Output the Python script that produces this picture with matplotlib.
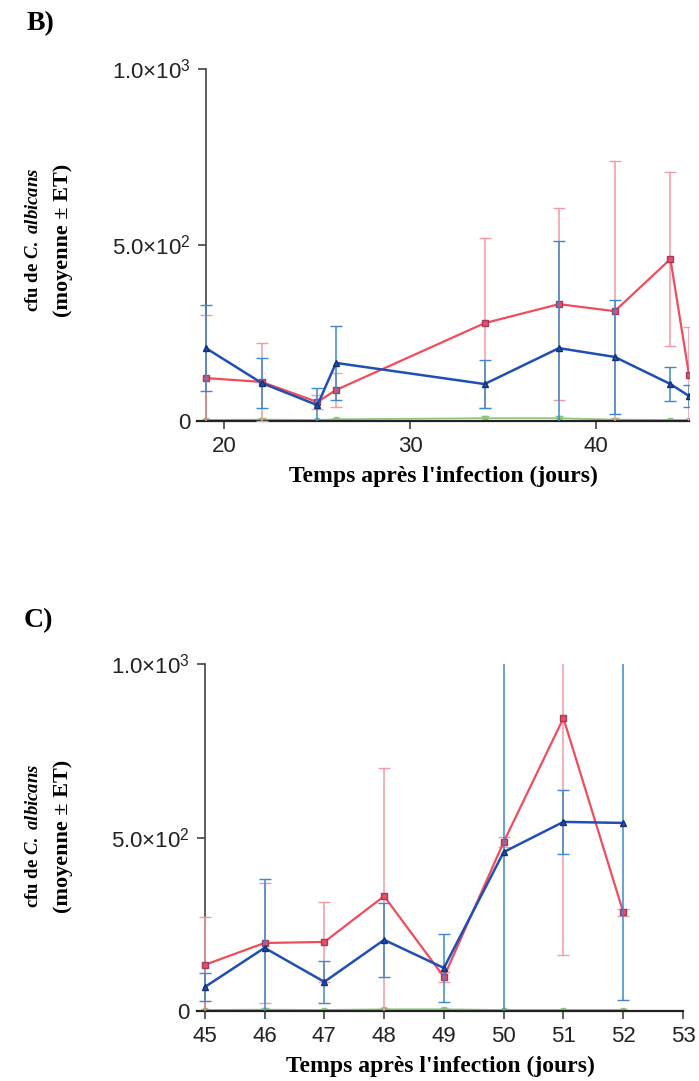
import numpy as np
import matplotlib
matplotlib.use('Agg')
import matplotlib.pyplot as plt

plt.rcParams['font.family'] = ['Liberation Sans', 'DejaVu Sans']
plt.rcParams['mathtext.fontset'] = 'custom'
plt.rcParams['mathtext.rm'] = 'Liberation Serif:bold'
plt.rcParams['mathtext.it'] = 'Liberation Serif:italic:bold'

# panneau B
jours_b = [19, 22, 25, 26, 34, 38, 41, 44, 45]
rouge_b = [122, 111, 54, 88, 278, 332, 312, 460, 131]
rouge_b_et = [179, 111, 20, 47, 242, 273, 426, 247, 136]
bleu_b = [207, 108, 45, 165, 105, 207, 182, 105, 71]
bleu_b_et = [123, 72, 50, 105, 68, 304, 161, 48, 30]
vert_b = [3, 4, 3, 5, 8, 8, 4, 3, 3]
vert_b_et = [3, 4, 3, 4, 6, 6, 4, 3, 3]

# panneau C
jours_c = [45, 46, 47, 48, 49, 50, 51, 52]
rouge_c = [133, 196, 199, 331, 98, 487, 844, 285]
rouge_c_et = [138, 173, 115, 369, 15, 15, 683, 10]
bleu_c = [69, 182, 84, 205, 124, 458, 545, 542]
bleu_c_et = [40, 198, 60, 107, 97, 600, 92, 510]
vert_c = [3, 4, 3, 5, 5, 3, 3, 3]
vert_c_et = [3, 4, 3, 4, 4, 3, 3, 3]

xticks_b = [20, 30, 40]
xticks_c = [45, 46, 47, 48, 49, 50, 51, 52, 53]
yticks = [0, 500, 1000]
ylabels = ['0', '5.0×10$^{\\mathregular{2}}$', '1.0×10$^{\\mathregular{3}}$']

c_rouge = '#f24b5c'
c_rouge_err = '#f39aa4'
c_rouge_cap = '#e27a8a'
c_bleu = '#1f4fb4'
c_bleu_err = '#3f86d0'
c_bleu_cap = '#1b3c80'
c_vert = '#8cc47a'

fig = plt.figure(figsize=(6.99, 10.81), dpi=100)


def panneau(ax, jours, rouge, rouge_et, bleu, bleu_et, vert, vert_et, x0, x1, xticks):
    ax.errorbar(jours, vert, yerr=vert_et, color=c_vert, ecolor=c_vert, lw=1.2,
                marker='s', ms=3, capsize=3, elinewidth=1, zorder=2)
    r = ax.errorbar(jours, rouge, yerr=rouge_et, color=c_rouge, ecolor=c_rouge_err, lw=1.6,
                    marker='s', ms=5, mfc=c_rouge, mec='#9a3d62', capsize=4, elinewidth=1.1, zorder=3)
    b = ax.errorbar(jours, bleu, yerr=bleu_et, color=c_bleu, ecolor=c_bleu_err, lw=1.8,
                    marker='^', ms=5, mfc=c_bleu, mec='#15306f', capsize=4, elinewidth=1.1, zorder=4)
    for cap in r[1]:
        cap.set_color(c_rouge_cap)
    for cap in b[1]:
        cap.set_color(c_bleu_cap)
    ax.set_xlim(x0, x1)
    ax.set_ylim(0, 1000)
    ax.spines['left'].set_position(('data', jours[0]))
    ax.spines['top'].set_visible(False)
    ax.spines['right'].set_visible(False)
    ax.spines['left'].set_color('#444444')
    ax.spines['left'].set_linewidth(1.2)
    ax.spines['bottom'].set_color('#222222')
    ax.spines['bottom'].set_linewidth(1.6)
    ax.set_xticks(xticks)
    ax.set_yticks(yticks)
    ax.set_yticklabels(ylabels)
    ax.tick_params(axis='both', direction='out', length=6, width=1.1, labelsize=16,
                   color='#333333', labelcolor='#222222')
    ax.tick_params(axis='y', pad=5)
    ax.tick_params(axis='x', pad=5)
    ax.set_xlabel("Temps après l'infection (jours)", family='Liberation Serif',
                  fontweight='bold', fontsize=17, labelpad=6)


ax1 = fig.add_axes([197 / 699, 1 - 421 / 1081, (689 - 197) / 699, (421 - 69) / 1081])
panneau(ax1, jours_b, rouge_b, rouge_b_et, bleu_b, bleu_b_et, vert_b, vert_b_et, 18.52, 45, xticks_b)

ax2 = fig.add_axes([197 / 699, 1 - 1011 / 1081, (683 - 197) / 699, (1011 - 664) / 1081])
panneau(ax2, jours_c, rouge_c, rouge_c_et, bleu_c, bleu_c_et, vert_c, vert_c_et, 44.87, 53, xticks_c)

# titres des axes y et lettres
for yc, lettre, xl, yl in [(240, 'B)', 27, 24), (836, 'C)', 24, 621)]:
    fig.text(33 / 699, 1 - yc / 1081, r'$\mathrm{cfu\ de\ }\mathit{C.\ albicans}$', rotation=90,
             ha='center', va='center', fontsize=13.5)
    fig.text(63 / 699, 1 - yc / 1081, '(moyenne ± ET)', rotation=90, ha='center', va='center',
             family='Liberation Serif', fontweight='bold', fontsize=16)
    fig.text(xl / 699, 1 - yl / 1081, lettre, ha='left', va='center',
             family='Liberation Serif', fontweight='bold', fontsize=20)

plt.savefig('out.png', dpi=100)
